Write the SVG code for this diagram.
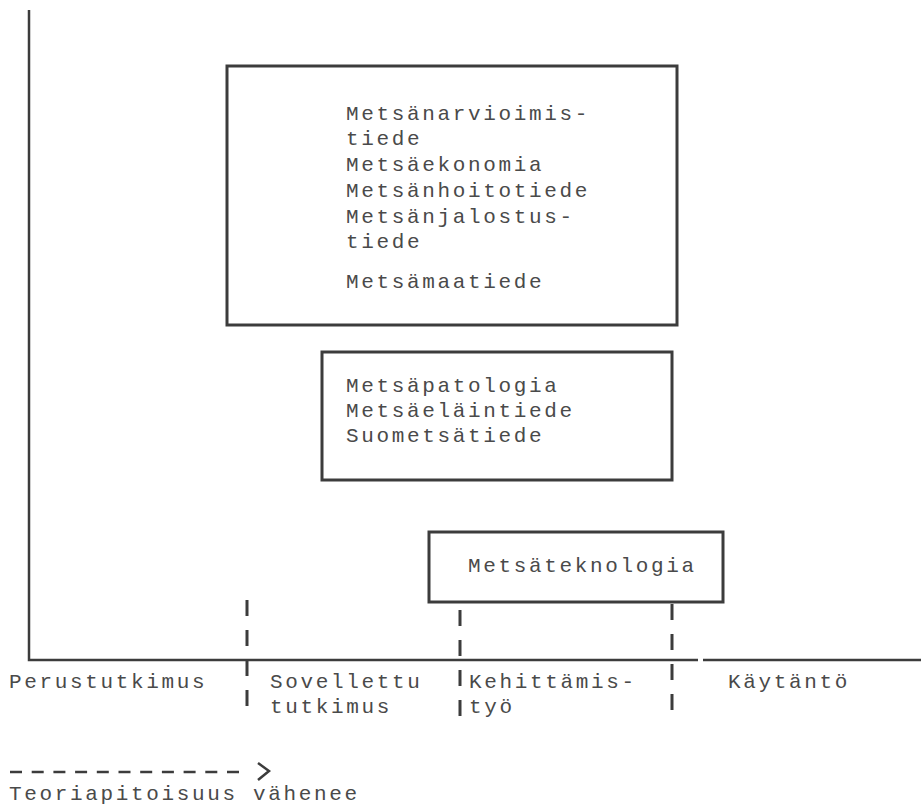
<svg xmlns="http://www.w3.org/2000/svg" width="921" height="808" viewBox="0 0 921 808">
  <style>
    .t { font-family: "Liberation Mono", "Courier New", monospace; font-size: 21px; letter-spacing: 2.65px; fill: #4a4a4a; }
    .box { fill: none; stroke: #3c3c3c; stroke-width: 3; }
    .axis { fill: none; stroke: #3c3c3c; stroke-width: 2.5; }
    .div { fill: none; stroke: #3c3c3c; stroke-width: 3; stroke-dasharray: 16 14; }
    .arr { fill: none; stroke: #3c3c3c; stroke-width: 2.5; }
  </style>
  <rect width="921" height="808" fill="#ffffff"/>

  <!-- axes -->
  <g id="axes">
    <path class="axis" d="M29 10 V660 H698 M703 660 H921"/>
  </g>

  <!-- phase boundaries and direction arrow -->
  <g id="connectors">
    <line class="div" x1="247" y1="600" x2="247" y2="716"/>
    <line class="div" x1="460" y1="610" x2="460" y2="716"/>
    <line class="div" x1="672" y1="604" x2="672" y2="716"/>
    <line class="arr" x1="10" y1="772" x2="244" y2="772" stroke-dasharray="12 9.7"/>
    <path class="arr" d="M258 763 L269 771 L258 780" stroke-width="3.5"/>
  </g>

  <g id="box1">
    <rect class="box" x="227" y="66" width="450" height="259"/>
    <text class="t" x="346" y="120">Metsänarvioimis-</text>
    <text class="t" x="346" y="145">tiede</text>
    <text class="t" x="346" y="171">Metsäekonomia</text>
    <text class="t" x="346" y="197">Metsänhoitotiede</text>
    <text class="t" x="346" y="223">Metsänjalostus-</text>
    <text class="t" x="346" y="248">tiede</text>
    <text class="t" x="346" y="288">Metsämaatiede</text>
  </g>

  <g id="box2">
    <rect class="box" x="322" y="352" width="350" height="128"/>
    <text class="t" x="346" y="392">Metsäpatologia</text>
    <text class="t" x="346" y="417">Metsäeläintiede</text>
    <text class="t" x="346" y="442">Suometsätiede</text>
  </g>

  <g id="box3">
    <rect class="box" x="429" y="532" width="294" height="70"/>
    <text class="t" x="468" y="572">Metsäteknologia</text>
  </g>

  <g id="labels">
    <text class="t" x="9" y="688">Perustutkimus</text>
    <text class="t" x="270" y="688">Sovellettu</text>
    <text class="t" x="270" y="713">tutkimus</text>
    <text class="t" x="469" y="688">Kehittämis-</text>
    <text class="t" x="469" y="713">työ</text>
    <text class="t" x="728" y="688">Käytäntö</text>
    <text class="t" x="9" y="800">Teoriapitoisuus vähenee</text>
  </g>
</svg>
